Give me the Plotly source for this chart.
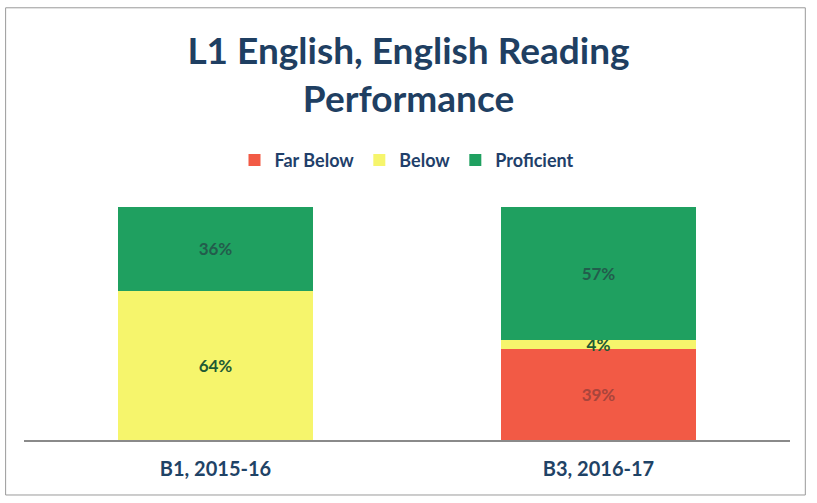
import plotly.graph_objects as go

categories = ["B1, 2015-16", "B3, 2016-17"]
far_below = [0, 39]
below = [64, 4]
proficient = [36, 57]

far_below_labels = ["", "39%"]
below_labels = ["64%", "4%"]
proficient_labels = ["36%", "57%"]

lbl_font = dict(size=17, family="Lato", weight="bold")

fig = go.Figure()
fig.add_trace(go.Bar(name="Far Below", x=categories, y=far_below, text=far_below_labels,
                     marker=dict(color="#f25a45", line=dict(width=0)),
                     textposition="inside", insidetextanchor="middle",
                     textfont=dict(color="#a8453c", **lbl_font)))
fig.add_trace(go.Bar(name="Below", x=categories, y=below, text=below_labels,
                     marker=dict(color="#f6f56c", line=dict(width=0)),
                     textposition="inside", insidetextanchor="middle", constraintext="none",
                     textfont=dict(color="#1e5a35", **lbl_font)))
fig.add_trace(go.Bar(name="Proficient", x=categories, y=proficient, text=proficient_labels,
                     marker=dict(color="#1fa060", line=dict(width=0)),
                     textposition="inside", insidetextanchor="middle",
                     textfont=dict(color="#235c4c", **lbl_font)))

fig.update_layout(
    barmode="stack",
    bargap=0.49,
    width=817, height=503,
    paper_bgcolor="white", plot_bgcolor="white",
    margin=dict(l=24, r=27, t=207, b=63),
    title=dict(text="L1 English, English Reading<br>Performance",
               x=0.5, xanchor="center", y=0.872, yanchor="top",
               font=dict(family="Lato", size=37, color="#1f3f62", weight="bold")),
    legend=dict(orientation="h", x=0.5, xanchor="center", y=1.2, yanchor="middle",
                font=dict(family="Lato", size=18, color="#1f3f6a", weight="bold"),
                traceorder="normal"),
    showlegend=True,
    uniformtext=dict(mode=False),
)
fig.update_xaxes(showline=True, linecolor="#8a8a8a", linewidth=1.5, ticks="",
                 tickfont=dict(family="Lato", size=20, color="#1f4366", weight="bold"),
                 ticklabelstandoff=10, showgrid=False)
fig.update_yaxes(range=[0, 100], visible=False, showgrid=False)

fig.add_shape(type="rect", xref="paper", yref="paper",
              x0=-0.024, x1=1.02, y0=-0.236, y1=1.855,
              line=dict(color="#9a9a9a", width=1), layer="below")

fig.write_html("out.html", config={"displayModeBar": False},
               post_script="document.body.style.margin='0';")
